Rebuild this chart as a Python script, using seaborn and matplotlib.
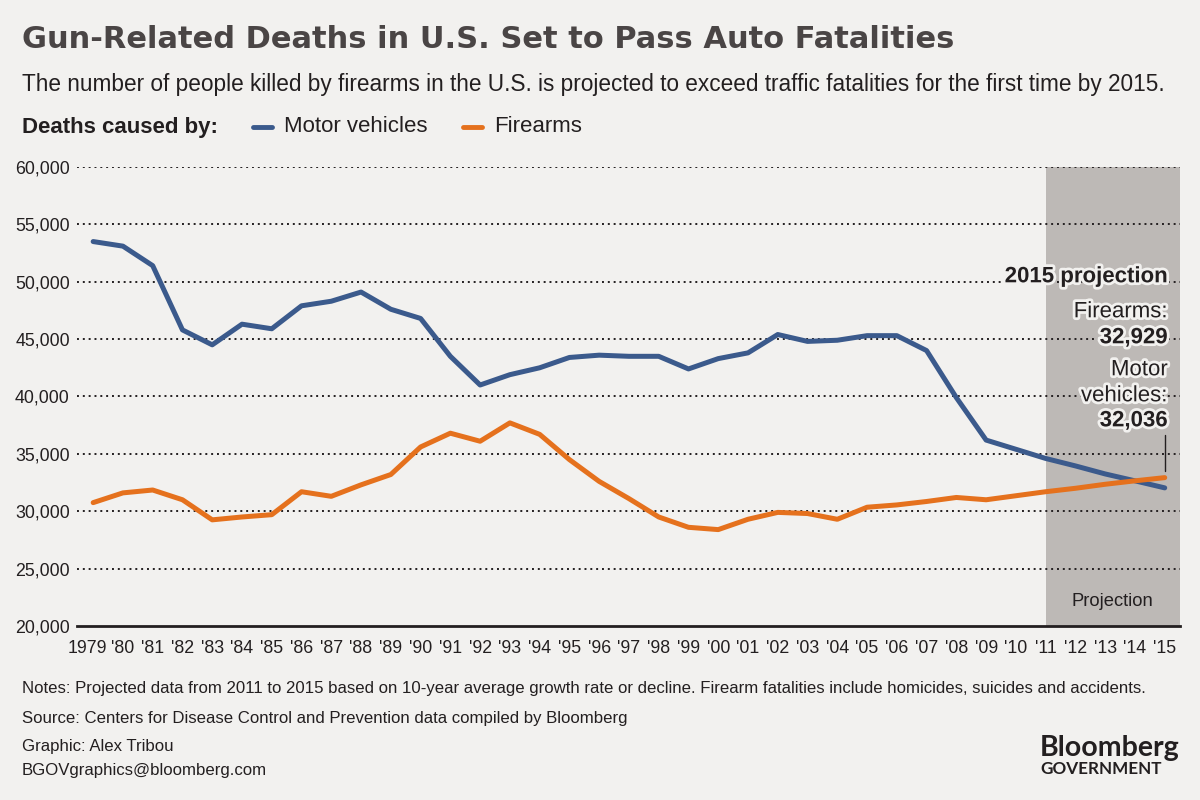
import numpy as np
import pandas as pd
import matplotlib
matplotlib.use("Agg")
import matplotlib.pyplot as plt
import matplotlib.patheffects as pe
import matplotlib.transforms as mtransforms
import seaborn as sns

years = list(range(1979, 2016))
motor_vehicles = [53500, 53100, 51400, 45800, 44500, 46300, 45900, 47900, 48300, 49100,
                  47600, 46800, 43500, 41000, 41900, 42500, 43400, 43600, 43500, 43500,
                  42400, 43300, 43800, 45400, 44800, 44900, 45300, 45300, 44000, 39900,
                  36200, 35400, 34600, 33950, 33250, 32650, 32036]
firearms = [30750, 31600, 31850, 31000, 29250, 29500, 29700, 31700, 31300, 32300,
            33200, 35600, 36800, 36100, 37700, 36700, 34500, 32600, 31100, 29500,
            28600, 28400, 29300, 29900, 29800, 29300, 30350, 30550, 30850, 31200,
            31000, 31350, 31700, 32000, 32350, 32650, 32929]
series_names = ["Motor vehicles", "Firearms"]
tick_labels = ["1979"] + ["'" + str(y)[2:] for y in years[1:]]
y_ticks = [20000, 25000, 30000, 35000, 40000, 45000, 50000, 55000, 60000]
projection_start = 2011

df = pd.DataFrame({
    "year": years * 2,
    "deaths": motor_vehicles + firearms,
    "cause": [series_names[0]] * len(years) + [series_names[1]] * len(years),
})

BG = "#f2f1ef"
BLUE = "#3b5a8c"
ORANGE = "#e5711d"
SHADE = "#bdb9b6"
DARK = "#231f20"

sns.set_theme(style="white")
plt.rcParams["font.family"] = ["Liberation Sans", "DejaVu Sans"]

fig = plt.figure(figsize=(12, 8), dpi=100, facecolor=BG)
ax = fig.add_axes([0.064, 0.2175, 0.919, 0.5738])
ax.set_facecolor(BG)

ax.axvspan(projection_start, 2015.5, color=SHADE, zorder=0, lw=0)
for yv in y_ticks[1:]:
    ax.axhline(yv, color=DARK, lw=1.4, ls=(0, (1, 2.0)), zorder=1)

sns.lineplot(data=df, x="year", y="deaths", hue="cause",
             palette={series_names[0]: BLUE, series_names[1]: ORANGE},
             lw=3.6, ax=ax, legend=False, zorder=3, solid_capstyle="round")

ax.set_xlim(1978.45, 2015.5)
ax.set_ylim(20000, 60000)
ax.set_xticks(years)
ax.set_xticklabels(tick_labels, fontsize=12.8, color=DARK)
ax.set_yticks(y_ticks)
ax.set_yticklabels([f"{v:,}" for v in y_ticks], fontsize=12.8, color=DARK)
ax.tick_params(axis="x", direction="out", length=6, width=1.3, color=DARK, pad=4)
ax.tick_params(axis="y", length=0, pad=5)
ax.set_xlabel("")
ax.set_ylabel("")
for s in ["top", "right", "left"]:
    ax.spines[s].set_visible(False)
ax.spines["bottom"].set_color(DARK)
ax.spines["bottom"].set_linewidth(2)
ax.spines["bottom"].set_zorder(4)

# nudge the first (4-digit) label left so it doesn't collide with '80
first = ax.get_xticklabels()[0]
first.set_transform(first.get_transform() + mtransforms.ScaledTranslation(-6 / 100, 0, fig.dpi_scale_trans))

halo = [pe.withStroke(linewidth=4, foreground=BG)]
xr = 2015.1
fs = 16
ax.text(xr, 50430, "2015 projection", ha="right", va="center", fontsize=fs,
        fontweight="bold", color=DARK, path_effects=halo, zorder=5)
ax.text(xr, 47380, "Firearms:", ha="right", va="center", fontsize=fs,
        color=DARK, path_effects=halo, zorder=5)
ax.text(xr, 45115, f"{firearms[-1]:,}", ha="right", va="center", fontsize=fs,
        fontweight="bold", color=DARK, path_effects=halo, zorder=5)
ax.text(xr, 42324, "Motor", ha="right", va="center", fontsize=fs,
        color=DARK, path_effects=halo, zorder=5)
ax.text(xr, 40057, "vehicles:", ha="right", va="center", fontsize=fs,
        color=DARK, path_effects=halo, zorder=5)
ax.text(xr, 37877, f"{motor_vehicles[-1]:,}", ha="right", va="center", fontsize=fs,
        fontweight="bold", color=DARK, path_effects=halo, zorder=5)
ax.plot([2015, 2015], [36650, 33550], color=DARK, lw=1, zorder=5)
ax.text(2013.25, 22100, "Projection", ha="center", va="center", fontsize=13.2,
        color=DARK, zorder=5)

# Header
fig.text(22 / 1200, 1 - 40 / 800, "Gun-Related Deaths in U.S. Set to Pass Auto Fatalities",
         fontsize=22, fontweight="bold", family=["DejaVu Sans"], color="#4a4545",
         va="center", ha="left")
fig.text(22 / 1200, 1 - 84 / 800,
         "The number of people killed by firearms in the U.S. is projected to exceed traffic fatalities for the first time by 2015.",
         fontsize=16.3, color=DARK, va="center", ha="left")
fig.text(22 / 1200, 1 - 127 / 800, "Deaths caused by:", fontsize=16,
         fontweight="bold", color=DARK, va="center", ha="left")
for x0, col, name in [(253, BLUE, series_names[0]), (463, ORANGE, series_names[1])]:
    fig.add_artist(plt.Line2D([x0 / 1200, (x0 + 19) / 1200], [1 - 127 / 800] * 2,
                              color=col, lw=3.5, transform=fig.transFigure))
    fig.text((x0 + 31) / 1200, 1 - 127 / 800, name, fontsize=16,
             color=DARK, va="center", ha="left")

# Footer
ffs = 12.1
fig.text(22 / 1200, 1 - 689 / 800,
         "Notes: Projected data from 2011 to 2015 based on 10-year average growth rate or decline. Firearm fatalities include homicides, suicides and accidents.",
         fontsize=ffs, color=DARK, va="center", ha="left")
fig.text(22 / 1200, 1 - 718 / 800,
         "Source: Centers for Disease Control and Prevention data compiled by Bloomberg",
         fontsize=ffs, color=DARK, va="center", ha="left")
fig.text(22 / 1200, 1 - 747 / 800, "Graphic: Alex Tribou",
         fontsize=ffs, color=DARK, va="center", ha="left")
fig.text(22 / 1200, 1 - 771 / 800, "BGOVgraphics@bloomberg.com",
         fontsize=ffs, color=DARK, va="center", ha="left")
fig.text(1180 / 1200, 1 - 748 / 800, "Bloomberg", fontsize=20.5, fontweight="bold",
         family=["Lato", "DejaVu Sans"], color=DARK, va="center", ha="right")
fig.text(1040 / 1200, 1 - 769 / 800, "GOVERNMENT", fontsize=12.3, fontweight="bold",
         family=["Lato", "DejaVu Sans"], color=DARK, va="center", ha="left")

fig.savefig("out.png", dpi=100, facecolor=BG)
